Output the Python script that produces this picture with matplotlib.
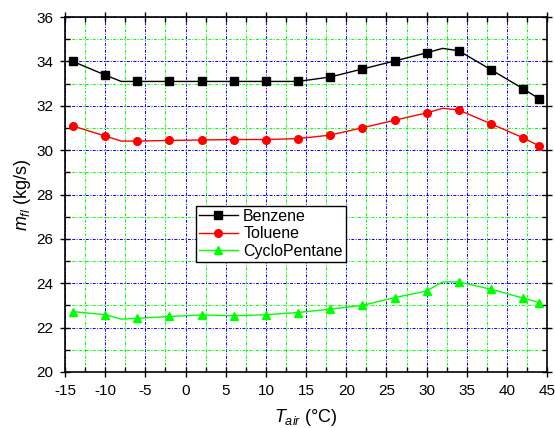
import matplotlib
matplotlib.use("Agg")
from matplotlib import pyplot as plt
from matplotlib.ticker import MultipleLocator

plt.rcParams['font.family'] = ['Liberation Sans', 'DejaVu Sans']
plt.rcParams['mathtext.fontset'] = 'custom'
plt.rcParams['mathtext.rm'] = 'Liberation Sans'
plt.rcParams['mathtext.it'] = 'Liberation Sans:italic'
plt.rcParams['axes.unicode_minus'] = False

# marker points
t_pts = [-14, -10, -6, -2, 2, 6, 10, 14, 18, 22, 26, 30, 34, 38, 42, 44]
benzene = [34.0, 33.39, 33.1, 33.1, 33.1, 33.1, 33.1, 33.1, 33.3, 33.66, 34.02, 34.39, 34.48, 33.63, 32.77, 32.32]
toluene = [31.09, 30.64, 30.41, 30.44, 30.46, 30.48, 30.48, 30.52, 30.68, 31.01, 31.35, 31.68, 31.81, 31.19, 30.56, 30.19]
cyclo = [22.72, 22.58, 22.42, 22.5, 22.57, 22.53, 22.58, 22.68, 22.83, 23.0, 23.35, 23.65, 24.06, 23.73, 23.33, 23.13]

# connecting curve (has extra vertices at -8 and 32)
t_line = [-14, -10, -8, -6, -2, 2, 6, 10, 14, 18, 22, 26, 30, 32, 34, 38, 42, 44]
benzene_line = [34.0, 33.39, 33.1, 33.1, 33.1, 33.1, 33.1, 33.1, 33.1, 33.3, 33.66, 34.02, 34.39, 34.59, 34.48, 33.63, 32.77, 32.32]
toluene_line = [31.09, 30.64, 30.41, 30.41, 30.44, 30.46, 30.48, 30.48, 30.52, 30.68, 31.01, 31.35, 31.68, 31.89, 31.81, 31.19, 30.56, 30.19]
cyclo_line = [22.72, 22.58, 22.38, 22.42, 22.5, 22.57, 22.53, 22.58, 22.68, 22.83, 23.0, 23.35, 23.65, 24.06, 24.06, 23.73, 23.33, 23.13]

fig = plt.figure(figsize=(5.55, 4.28), dpi=100)
ax = fig.add_axes([0.117, 0.131, 0.869, 0.829])

series = [(benzene, benzene_line, 'black', 's', 'Benzene'),
          (toluene, toluene_line, 'red', 'o', 'Toluene'),
          (cyclo, cyclo_line, '#00ff00', '^', 'CycloPentane')]
for pts, ln, c, m, name in series:
    ax.plot(t_line, ln, color=c, lw=1.0, zorder=3)
    ax.plot(t_pts, pts, color=c, marker=m, ms=5.5, lw=0, zorder=4)
    ax.plot([], [], color=c, marker=m, ms=5.5, lw=1.0, label=name)

ax.set_xlim(-15, 45)
ax.set_ylim(20, 36)
ax.xaxis.set_major_locator(MultipleLocator(5))
ax.xaxis.set_minor_locator(MultipleLocator(2.5))
ax.yaxis.set_major_locator(MultipleLocator(2))
ax.yaxis.set_minor_locator(MultipleLocator(1))
dashdot = (0, (3, 1.5, 1, 1.5))
ax.grid(which='major', color='blue', ls=dashdot, lw=0.7, zorder=1)
ax.grid(which='minor', color='#00ff00', ls=dashdot, lw=0.7, zorder=1)
ax.set_axisbelow(True)
ax.tick_params(which='both', top=True, right=True, labelsize=11)
ax.tick_params(which='major', direction='inout', length=7, width=1, pad=5)
ax.tick_params(which='minor', direction='in', length=3.5, width=1)
for s in ax.spines.values():
    s.set_linewidth(1.2)

ax.set_xlabel('$T_{air}$ (°C)', fontsize=13, labelpad=7)
ax.set_ylabel('$m_{fl}$ (kg/s)', fontsize=13, labelpad=2)

leg = ax.legend(loc='upper left', bbox_to_anchor=(0.272, 0.468), fontsize=11.5,
                fancybox=False, framealpha=1, edgecolor='black',
                handlelength=2.4, borderpad=0.2, labelspacing=0.15,
                handletextpad=0.35, borderaxespad=0)
leg.get_frame().set_linewidth(1.0)

fig.savefig('out.png', dpi=100)
